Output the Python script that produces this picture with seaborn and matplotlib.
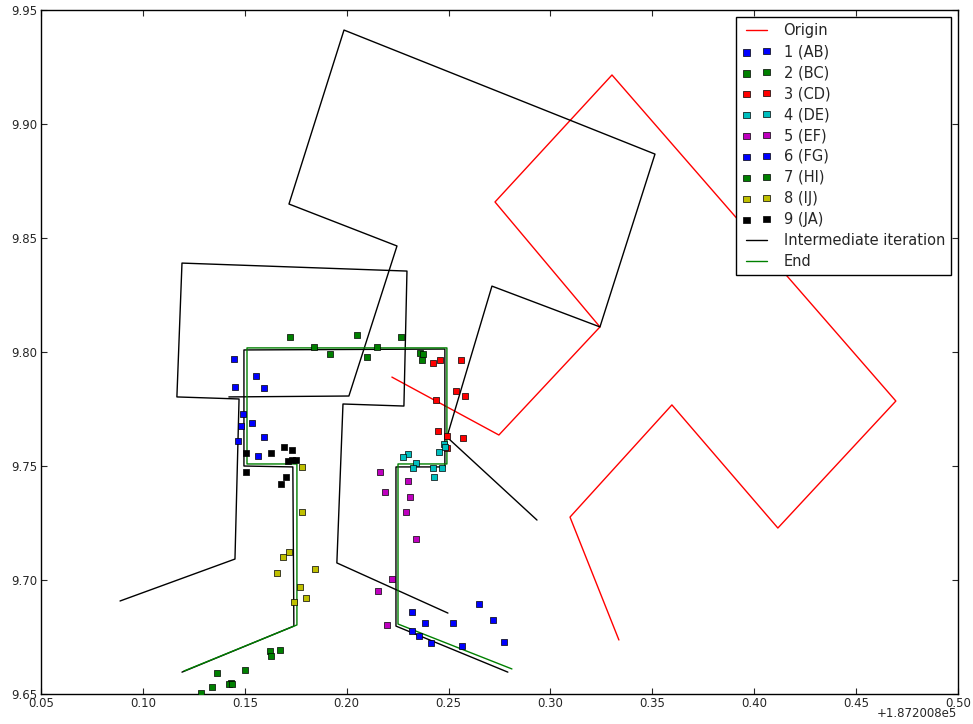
import numpy as np
import pandas as pd
import matplotlib
matplotlib.use('Agg')
import matplotlib.pyplot as plt
import seaborn as sns

# old-matplotlib look: ticks inside on all four sides, no grid
sns.set_style('ticks', {'xtick.direction': 'in', 'ytick.direction': 'in',
                        'axes.edgecolor': 'black'})
plt.rcParams['font.family'] = ['DejaVu Sans']
plt.rcParams['font.size'] = 8.5

X0 = 187200.8  # x offset shown as +1.872008e5

# origin polygon (open polyline, 10 vertices)
origin_x = [0.3336, 0.3096, 0.3596, 0.4116, 0.4695, 0.3302, 0.2728, 0.3243, 0.2747, 0.2222]
origin_y = [9.6737, 9.7276, 9.7768, 9.7228, 9.7785, 9.9215, 9.8658, 9.8110, 9.7636, 9.7890]

# intermediate iterations
iter1_x = [0.2934, 0.2492, 0.2713, 0.3243, 0.3513, 0.1987, 0.1717, 0.2247, 0.2011, 0.1422]
iter1_y = [9.7263, 9.7627, 9.8289, 9.8110, 9.8868, 9.9412, 9.8649, 9.8465, 9.7807, 9.7803]
iter2_x = [0.0888, 0.1452, 0.1472, 0.1167, 0.1192, 0.2296, 0.2281, 0.1982, 0.1952, 0.2497]
iter2_y = [9.6908, 9.7092, 9.7794, 9.7803, 9.8390, 9.8355, 9.7763, 9.7772, 9.7075, 9.6855]
iter3_x = [0.1192, 0.1741, 0.1736, 0.1496, 0.1496, 0.2482, 0.2482, 0.2242, 0.2242, 0.2791]
iter3_y = [9.6596, 9.6798, 9.7496, 9.7500, 9.8009, 9.8013, 9.7496, 9.7496, 9.6798, 9.6596]

# end result
end_x = [0.1202, 0.1756, 0.1756, 0.1511, 0.1511, 0.2492, 0.2492, 0.2252, 0.2252, 0.2811]
end_y = [9.6601, 9.6803, 9.7509, 9.7509, 9.8018, 9.8018, 9.7509, 9.7509, 9.6807, 9.6610]

# measured points per segment
seg_labels = ['1 (AB)', '2 (BC)', '3 (CD)', '4 (DE)', '5 (EF)', '6 (FG)', '7 (HI)', '8 (IJ)', '9 (JA)']
seg_x = [
    [0.1447, 0.1555, 0.1452, 0.1594, 0.1491, 0.1535, 0.1481, 0.1594, 0.1467, 0.1565],
    [0.1722, 0.1840, 0.1918, 0.2051, 0.2149, 0.2100, 0.2266, 0.2360, 0.2374, 0.2370],
    [0.2423, 0.2458, 0.2561, 0.2536, 0.2580, 0.2438, 0.2448, 0.2492, 0.2571, 0.2492],
    [0.2477, 0.2482, 0.2453, 0.2301, 0.2276, 0.2340, 0.2325, 0.2423, 0.2468, 0.2428],
    [0.2163, 0.2301, 0.2188, 0.2311, 0.2291, 0.2340, 0.2222, 0.2154, 0.2198],
    [0.2320, 0.2384, 0.2522, 0.2649, 0.2718, 0.2772, 0.2566, 0.2414, 0.2355, 0.2320],
    [0.1624, 0.1629, 0.1673, 0.1501, 0.1364, 0.1339, 0.1285, 0.1432, 0.1422, 0.1437],
    [0.1781, 0.1781, 0.1717, 0.1687, 0.1658, 0.1844, 0.1771, 0.1800, 0.1741],
    [0.1506, 0.1692, 0.1732, 0.1629, 0.1712, 0.1732, 0.1751, 0.1506, 0.1702, 0.1678],
]
seg_y = [
    [9.7969, 9.7895, 9.7847, 9.7842, 9.7728, 9.7689, 9.7675, 9.7627, 9.7610, 9.7544],
    [9.8066, 9.8022, 9.7991, 9.8075, 9.8022, 9.7978, 9.8066, 9.7996, 9.7991, 9.7965],
    [9.7952, 9.7965, 9.7965, 9.7829, 9.7807, 9.7789, 9.7654, 9.7632, 9.7623, 9.7579],
    [9.7596, 9.7583, 9.7561, 9.7553, 9.7539, 9.7513, 9.7491, 9.7491, 9.7491, 9.7452],
    [9.7474, 9.7434, 9.7386, 9.7364, 9.7298, 9.7180, 9.7004, 9.6952, 9.6803],
    [9.6860, 9.6811, 9.6811, 9.6895, 9.6825, 9.6728, 9.6711, 9.6724, 9.6754, 9.6776],
    [9.6689, 9.6667, 9.6693, 9.6605, 9.6592, 9.6531, 9.6504, 9.6548, 9.6544, 9.6544],
    [9.7496, 9.7298, 9.7123, 9.7101, 9.7031, 9.7048, 9.6969, 9.6921, 9.6904],
    [9.7557, 9.7583, 9.7570, 9.7557, 9.7522, 9.7526, 9.7526, 9.7474, 9.7452, 9.7421],
]
seg_colors = [(0, 0, 1), (0, 0.5, 0), (1, 0, 0), (0, 0.75, 0.75), (0.75, 0, 0.75),
              (0, 0, 1), (0, 0.5, 0), (0.75, 0.75, 0), (0, 0, 0)]

fig, ax = plt.subplots(figsize=(9.73, 7.24), dpi=100)
fig.subplots_adjust(left=0.0421, right=0.9846, bottom=0.0414, top=0.9862)


def poly(xs, ys, color, label=None):
    df = pd.DataFrame({'x': X0 + np.array(xs), 'y': ys})
    sns.lineplot(data=df, x='x', y='y', sort=False, estimator=None,
                 color=color, lw=1, label=label, legend=False, ax=ax)
    return ax.lines[-1]


handles = []
handles.append(poly(origin_x, origin_y, (1, 0, 0), 'Origin'))

for xs, ys, c, lab in zip(seg_x, seg_y, seg_colors, seg_labels):
    sns.scatterplot(x=X0 + np.array(xs), y=ys, marker='s', s=22, color=c,
                    edgecolor='black', linewidth=0.5, zorder=3, label=lab,
                    legend=False, ax=ax)
    coll = ax.collections[-1]
    coll.set_sizes([22])
    handles.append(coll)

h_iter = poly(iter1_x, iter1_y, 'black', 'Intermediate iteration')
poly(iter2_x, iter2_y, 'black')
poly(iter3_x, iter3_y, 'black')
handles.append(h_iter)
handles.append(poly(end_x, end_y, (0, 0.5, 0), 'End'))

ax.set_xlim(X0 + 0.05, X0 + 0.50)
ax.set_ylim(9.65, 9.95)
ax.set_xticks(X0 + np.arange(0.05, 0.501, 0.05))
ax.set_yticks(np.arange(9.65, 9.951, 0.05))
ax.ticklabel_format(axis='x', useOffset=X0)
ax.set_xlabel('')
ax.set_ylabel('')
ax.tick_params(which='both', direction='in', top=True, right=True,
               length=4, width=0.8, labelsize=8.5)
ax.tick_params(axis='x', pad=2)
ax.tick_params(axis='y', pad=2.5)
for sp in ax.spines.values():
    sp.set_linewidth(1.0)
    sp.set_color('black')

# offset label sits at the lower right corner, just under the tick row like old mpl
ax.xaxis.get_offset_text().set_visible(False)
ax.text(0.999, -0.019, '+1.872008e5', transform=ax.transAxes,
        ha='right', va='top', fontsize=8.5)

ax.legend(handles=handles, labels=[h.get_label() for h in handles],
          loc='upper right', scatterpoints=2, numpoints=2, fancybox=False,
          framealpha=1, edgecolor='black', fontsize=10.5,
          handlelength=2.0, handletextpad=0.85, labelspacing=0.41,
          borderpad=0.4, borderaxespad=0.5)

fig.savefig('out.png', dpi=100)
